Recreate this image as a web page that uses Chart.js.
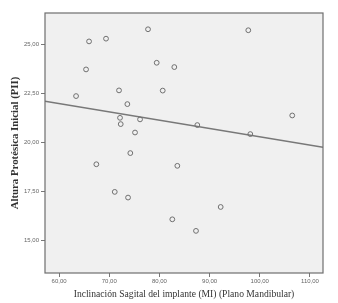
<!DOCTYPE html>
<html>
<head>
<meta charset="utf-8">
<script src="https://cdn.jsdelivr.net/npm/chart.js@4/dist/chart.umd.min.js"></script>
<style>
html,body{margin:0;padding:0;background:#fff;}
#wrap{width:338px;height:303px;}
</style>
</head>
<body>
<div id="wrap"><canvas id="c" width="338" height="303"></canvas></div>
<script>
const inclinacion = [63.39,65.98,65.38,69.36,77.73,79.46,82.97,80.66,71.95,73.61,72.15,72.29,76.14,75.14,74.20,67.43,71.10,73.75,83.57,82.57,92.21,87.29,87.55,97.71,98.11,106.47];
const altura = [22.36,25.15,23.72,25.29,25.77,24.06,23.84,22.64,22.65,21.95,21.25,20.93,21.17,20.50,19.45,18.88,17.47,17.18,18.80,16.07,16.70,15.48,20.88,25.72,20.42,21.37];
const fitX = [57.2, 112.6];
const fitY = [22.10, 19.75];
const xTicks = [60,70,80,90,100,110];
const yTicks = [15,17.5,20,22.5,25];
const xTitle = 'Inclinación Sagital del implante (MI) (Plano Mandibular)';
const yTitle = 'Altura Protésica Inicial (PII)';

const fmt = v => Number(v).toFixed(2).replace('.', ',');

const bgPlugin = {
  id: 'bg',
  beforeDraw(chart) {
    const {ctx, chartArea: a} = chart;
    ctx.save();
    ctx.fillStyle = '#f0f0f0';
    ctx.fillRect(a.left, a.top, a.right - a.left, a.bottom - a.top);
    ctx.restore();
  },
  afterDatasetsDraw(chart) {
    const {ctx, chartArea: a} = chart;
    ctx.save();
    ctx.strokeStyle = '#6e6e6e';
    ctx.lineWidth = 1.2;
    ctx.strokeRect(a.left, a.top, a.right - a.left, a.bottom - a.top);
    ctx.restore();
  }
};

new Chart(document.getElementById('c'), {
  type: 'scatter',
  data: {
    datasets: [
      {
        data: inclinacion.map((x, i) => ({x, y: altura[i]})),
        pointRadius: 2.4,
        pointBorderWidth: 1,
        pointBorderColor: '#707070',
        pointBackgroundColor: 'rgba(0,0,0,0)',
        showLine: false
      },
      {
        data: fitX.map((x, i) => ({x, y: fitY[i]})),
        showLine: true,
        borderColor: '#787878',
        borderWidth: 1.6,
        pointRadius: 0
      }
    ]
  },
  options: {
    responsive: false,
    animation: false,
    devicePixelRatio: 1,
    layout: {padding: {top: 13, right: 15, left: 0, bottom: 0}},
    plugins: {legend: {display: false}, tooltip: {enabled: false}},
    scales: {
      x: {
        type: 'linear',
        min: 57.2, max: 112.6,
        afterBuildTicks: s => { s.ticks = xTicks.map(v => ({value: v})); },
        afterFit: s => { s.height = 30; },
        grid: {drawOnChartArea: false, drawTicks: true, tickLength: 4, color: '#777', lineWidth: 1},
        border: {display: false},
        ticks: {callback: v => fmt(v), font: {family: 'Liberation Sans', size: 6}, color: '#666', padding: 1, maxRotation: 0, autoSkip: false},
        title: {display: true, text: xTitle, font: {family: 'Liberation Serif', size: 9.6}, color: '#333', padding: {top: 0, bottom: 3}}
      },
      y: {
        type: 'linear',
        min: 13.33, max: 26.6,
        afterBuildTicks: s => { s.ticks = yTicks.map(v => ({value: v})); },
        afterFit: s => { s.width = 45; },
        grid: {drawOnChartArea: false, drawTicks: true, tickLength: 4, color: '#777', lineWidth: 1},
        border: {display: false},
        ticks: {callback: v => fmt(v), font: {family: 'Liberation Sans', size: 6}, color: '#666', padding: 2, autoSkip: false},
        title: {display: true, text: yTitle, font: {family: 'Liberation Serif', size: 10.8, weight: 'bold'}, color: '#333', padding: {top: 9, bottom: 4}}
      }
    }
  },
  plugins: [bgPlugin]
});
</script>
</body>
</html>
